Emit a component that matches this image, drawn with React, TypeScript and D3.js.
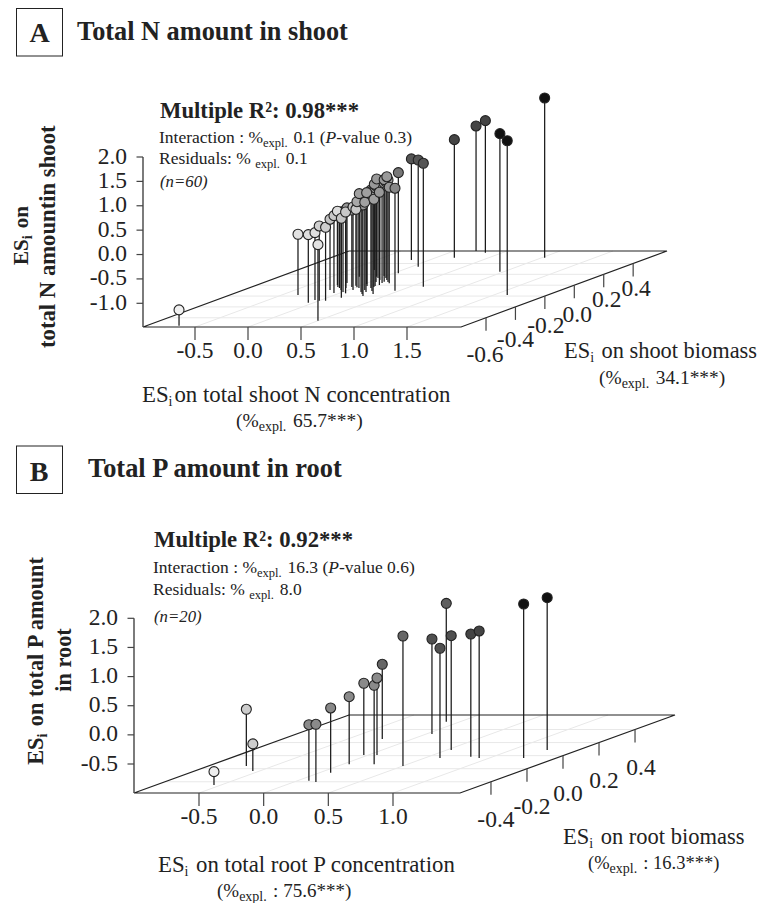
import React from "react";
import * as d3 from "d3";

// ---------- Panel A data ----------
const nHiddenX = [-0.174,-0.134,-0.069,0.001,-0.073,-0.192,-0.042,0.05,0.171,0.232,0.292,0.218,0.075,0.163,0.249,0.336,0.151,0.057,-0.027,0.043,0.139,-0.021,0.048,0.17];
const nHiddenY = [-0.034,-0.052,-0.088,-0.125,-0.052,0.041,-0.034,-0.052,-0.125,-0.162,-0.199,-0.125,-0.015,-0.052,-0.107,-0.162,-0.015,0.059,0.133,0.095,0.041,0.17,0.133,0.059];
const nHiddenZ = [-0.029,0.033,0.115,0.135,0.115,0.053,0.094,0.238,0.402,0.484,0.381,0.402,0.34,0.525,0.545,0.648,0.525,0.484,0.402,0.484,0.504,0.422,0.484,0.607];
const nHiddenShade = nHiddenX.map(() => "#999");
const nX = [-0.684,-0.346,-0.053,-0.058,0.499,0,0.06,-0.173,-0.058,-0.231,0.131,0.06,0.044,-0.037,0.013,-0.237,0.155,0.02,0.166,-0.266,-0.073,0.165,0.127,0.109,0.215,0.458,0.044,-0.173,0.065,0.624,0.174,0.208,0.339,0.962,1.628,1.026];
const nY = [-0.746,-0.181,-0.322,-0.273,-0.654,-0.286,-0.286,-0.088,-0.144,0.004,-0.23,-0.15,-0.088,-0.01,-0.039,0.157,-0.088,0.022,-0.034,0.28,0.157,0.004,0.064,0.095,0.035,-0.101,0.22,0.465,0.34,-0.028,0.507,0.63,0.599,0.249,-0.181,0.507];
const nZ = [-1.162,-0.24,-0.09,-0.105,0.074,0.047,0.02,-0.035,0.1,0.027,0.143,0.182,0.217,0.082,0.27,0.217,0.314,0.387,0.314,0.273,0.518,0.416,0.607,0.633,0.484,0.615,0.578,0.586,0.703,1.045,0.934,1.078,1.221,1.344,1.678,1.789];
const nShade = ["#f0f0f0","#e2e2e2","#dedede","#dedede","#e2e2e2","#cfcfcf","#cfcfcf","#c4c4c4","#c8c8c8","#dcdcdc","#c4c4c4","#c8c8c8","#c4c4c4","#c8c8c8","#a8a8a8","#a0a0a0","#a0a0a0","#a0a0a0","#a0a0a0","#999","#999","#999","#999","#999","#999","#888","#777","#555","#555","#555","#444","#444","#444","#111","#111","#111"];
const nXTicks = [-0.5, 0, 0.5, 1, 1.5];
const nYTicks = [-0.6, -0.4, -0.2, 0, 0.2, 0.4];
const nZTicks = [-1, -0.5, 0, 0.5, 1, 1.5, 2];

// ---------- Panel B data ----------
const pX = [-0.554,-0.709,-0.553,0.088,0.17,0.085,0.05,-0.036,0.243,0.066,-0.233,0.502,0.044,0.617,-0.107,0.534,0.829,0.92,1.264,1.276];
const pY = [-0.45,-0.159,-0.235,-0.384,-0.404,-0.261,-0.133,0.01,-0.133,0.01,0.254,-0.159,0.331,-0.036,0.519,0.086,-0.017,-0.036,-0.036,0.086];
const pZ = [-0.768,-0.024,-0.533,-0.036,-0.007,0.113,0.163,0.233,0.358,0.324,0.285,1.233,0.633,0.885,1.034,0.964,1.108,1.182,1.645,1.616];
const pShade = ["#eeeeee","#cccccc","#cccccc","#8a8a8a","#8a8a8a","#888888","#8a8a8a","#8a8a8a","#8a8a8a","#8a8a8a","#666666","#666666","#505050","#505050","#5f5f5f","#505050","#444444","#444444","#111111","#111111"];
const pXTicks = [-0.5, 0, 0.5, 1];
const pYTicks = [-0.4, -0.2, 0, 0.2, 0.4];
const pZTicks = [-0.5, 0, 0.5, 1, 1.5, 2];

const SERIF = "'Liberation Serif', serif";
const INK = "#222";

type Geo = {
  xScale: any; yT: any; zScale: any; floorX: number; floorY: number; dx: number; dy: number;
  width: number; zTop: number; yLabelDx: number[]; yLabelDy: number[]; xLabelY: number; zLabelX: number; zLabelDy: number; r: number;
};
type PanelData = { x: number[]; y: number[]; z: number[]; shade: string[]; xTicks: number[]; yTicks: number[]; zTicks: number[]; };

const geoA: Geo = {
  xScale: d3.scaleLinear().domain([-0.5, 1.5]).range([195, 407]),
  yT: d3.scaleLinear().domain([-0.77, 0.63]).range([0, 1]),
  zScale: d3.scaleLinear().domain([-1, 2]).range([303.3, 157]),
  floorX: 143, floorY: 327, dx: 206, dy: -76, width: 318, zTop: 157,
  yLabelDx: [-1, 0, 1, 3, 3, 3], yLabelDy: [44, 40, 37, 37, 33, 33], xLabelY: 358, zLabelX: 127, zLabelDy: 6.5, r: 5,
};
const geoB: Geo = {
  xScale: d3.scaleLinear().domain([-0.5, 1]).range([199, 393]),
  yT: d3.scaleLinear().domain([-0.572, 0.622]).range([0, 1]),
  zScale: d3.scaleLinear().domain([-0.5, 2]).range([764, 618.3]),
  floorX: 134, floorY: 793, dx: 215, dy: -78, width: 326, zTop: 618.3,
  yLabelDx: [5, 5, 5, 5, 6], yLabelDy: [45, 45, 45, 45, 45], xLabelY: 824, zLabelX: 118, zLabelDy: 6.5, r: 5,
};

const fmt = (v: number) => d3.format(".1f")(v).replace("\u2212", "-");

function Plot3D({ g, d }: { g: Geo; d: PanelData }) {
  const px = (x: number, y: number) => g.xScale(x) + g.yT(y) * g.dx;
  const py = (z: number, y: number) => g.zScale(z) + g.yT(y) * g.dy;
  const floorBase = (y: number) => g.floorY + g.yT(y) * g.dy;
  const left = g.floorX, right = g.floorX + g.width, base = g.floorY;
  return (
    <g fontFamily={SERIF}>
      {d.yTicks.map((t) => (
        <line key={"gy" + t} x1={left + g.yT(t) * g.dx} x2={right + g.yT(t) * g.dx} y1={floorBase(t)} y2={floorBase(t)} stroke="#e8e8e8" strokeWidth={1} />
      ))}
      {d.xTicks.map((t) => (
        <line key={"gx" + t} x1={g.xScale(t)} y1={base} x2={g.xScale(t) + g.dx} y2={base + g.dy} stroke="#e8e8e8" strokeWidth={1} />
      ))}
      <path d={`M${left},${base}L${left + g.dx},${base + g.dy}L${right + g.dx},${base + g.dy}L${right},${base}Z`} fill="none" stroke={INK} strokeWidth={1.2} />
      <line x1={left} x2={left} y1={g.zTop} y2={base} stroke="#444" strokeWidth={1.4} />
      {d.zTicks.map((t) => (
        <g key={"z" + t}>
          <line x1={left - 6.5} x2={left} y1={g.zScale(t)} y2={g.zScale(t)} stroke="#444" strokeWidth={1.2} />
          <text x={g.zLabelX} y={g.zScale(t) + g.zLabelDy} textAnchor="end" fontSize={23.5} fill={INK}>{fmt(t)}</text>
        </g>
      ))}
      {d.xTicks.map((t) => (
        <g key={"x" + t}>
          <line x1={g.xScale(t)} x2={g.xScale(t)} y1={base} y2={base + 13} stroke="#444" strokeWidth={1.2} />
          <text x={g.xScale(t)} y={g.xLabelY} textAnchor="middle" fontSize={23.5} fill={INK}>{fmt(t)}</text>
        </g>
      ))}
      {d.yTicks.map((t, i) => {
        const tx = right + g.yT(t) * g.dx;
        const ty = floorBase(t);
        return (
          <g key={"y" + t}>
            <line x1={tx} x2={tx} y1={ty} y2={ty + 13} stroke="#444" strokeWidth={1.2} />
            <text x={tx + g.yLabelDx[i]} y={ty + g.yLabelDy[i]} textAnchor="middle" fontSize={23.5} fill={INK}>{fmt(t)}</text>
          </g>
        );
      })}
      {d.x.map((x, i) => (
        <line key={"s" + i} x1={px(x, d.y[i])} x2={px(x, d.y[i])} y1={py(d.z[i], d.y[i])} y2={floorBase(d.y[i])} stroke="#1a1a1a" strokeWidth={1.25} />
      ))}
      {d.x.map((x, i) => (
        <circle key={"c" + i} cx={px(x, d.y[i])} cy={py(d.z[i], d.y[i])} r={g.r} fill={d.shade[i]} stroke={INK} strokeWidth={1.1} />
      ))}
    </g>
  );
}

function Sub({ children, size = 12.5, dy = 4 }: { children: React.ReactNode; size?: number; dy?: number }) {
  return (<><tspan fontSize={size} dy={dy}>{children}</tspan><tspan dy={-dy}>{"\u200a"}</tspan></>);
}

function T(props: any) {
  return <text fontFamily={SERIF} fill={INK} {...props} />;
}

export default function App() {
  const dataA: PanelData = {
    x: [...nHiddenX, ...nX], y: [...nHiddenY, ...nY], z: [...nHiddenZ, ...nZ], shade: [...nHiddenShade, ...nShade],
    xTicks: nXTicks, yTicks: nYTicks, zTicks: nZTicks,
  };
  const dataB: PanelData = { x: pX, y: pY, z: pZ, shade: pShade, xTicks: pXTicks, yTicks: pYTicks, zTicks: pZTicks };
  return (
    <svg width={769} height={903} style={{ position: "absolute", left: 0, top: 0, background: "#fff" }}>
      {/* Panel A */}
      <rect x={16.5} y={8.5} width={46} height={47.5} fill="none" stroke={INK} strokeWidth={1} />
      <T x={39.5} y={42} fontSize={28} fontWeight="bold" textAnchor="middle">A</T>
      <T x={77} y={40} fontSize={26.3} fontWeight="bold">Total N amount in shoot</T>
      <T x={160} y={118} fontSize={22.7} fontWeight="bold">Multiple R²: 0.98***</T>
      <T x={159} y={143} fontSize={17.5}>Interaction : %<Sub>expl.</Sub> 0.1 (<tspan fontStyle="italic">P</tspan>-value 0.3)</T>
      <T x={159} y={164} fontSize={17.5}>Residuals: % <Sub>expl.</Sub> 0.1</T>
      <T x={160} y={187} fontSize={16.8} fontStyle="italic">(n=60)</T>
      <T transform="translate(28,235.5) rotate(-90)" fontSize={21} fontWeight="bold" textAnchor="middle">ES<Sub size={14}>i</Sub> on</T>
      <T transform="translate(55,236.7) rotate(-90)" fontSize={22.7} fontWeight="bold" textAnchor="middle">total N amountin shoot</T>
      <Plot3D g={geoA} d={dataA} />
      <T x={142} y={402} fontSize={22.8}>ES<Sub size={14}>i</Sub>on total shoot N concentration</T>
      <T x={236} y={427} fontSize={19.5}>(%<Sub size={14}>expl.</Sub>  65.7***)</T>
      <T x={564} y={358} fontSize={22.4}>ES<Sub size={14}>i</Sub> on shoot biomass</T>
      <T x={599} y={384} fontSize={19.4}>(%<Sub size={14}>expl.</Sub>  34.1***)</T>

      {/* Panel B */}
      <rect x={16.5} y={446} width={46} height={47.5} fill="none" stroke={INK} strokeWidth={1} />
      <T x={39} y={480.5} fontSize={28} fontWeight="bold" textAnchor="middle">B</T>
      <T x={88} y={477} fontSize={26.4} fontWeight="bold">Total P amount in root</T>
      <T x={154} y={547} fontSize={22.7} fontWeight="bold">Multiple R²: 0.92***</T>
      <T x={153} y={573} fontSize={17.5}>Interaction : %<Sub>expl.</Sub> 16.3 (<tspan fontStyle="italic">P</tspan>-value 0.6)</T>
      <T x={153} y={595} fontSize={17.5}>Residuals: % <Sub>expl.</Sub> 8.0</T>
      <T x={154} y={622} fontSize={16.8} fontStyle="italic">(n=20)</T>
      <T transform="translate(43,661) rotate(-90)" fontSize={22.3} fontWeight="bold" textAnchor="middle">ES<Sub size={14}>i</Sub> on total P amount</T>
      <T transform="translate(70.5,660) rotate(-90)" fontSize={22.4} fontWeight="bold" textAnchor="middle">in root</T>
      <Plot3D g={geoB} d={dataB} />
      <T x={158} y={872} fontSize={22.8}>ES<Sub size={14}>i</Sub> on total root P concentration</T>
      <T x={217} y={897} fontSize={19}>(%<Sub size={14}>expl.</Sub> : 75.6***)</T>
      <T x={563} y={844} fontSize={22.5}>ES<Sub size={14}>i</Sub> on root biomass</T>
      <T x={588} y={869} fontSize={18.5}>(%<Sub size={14}>expl.</Sub> : 16.3***)</T>
    </svg>
  );
}
